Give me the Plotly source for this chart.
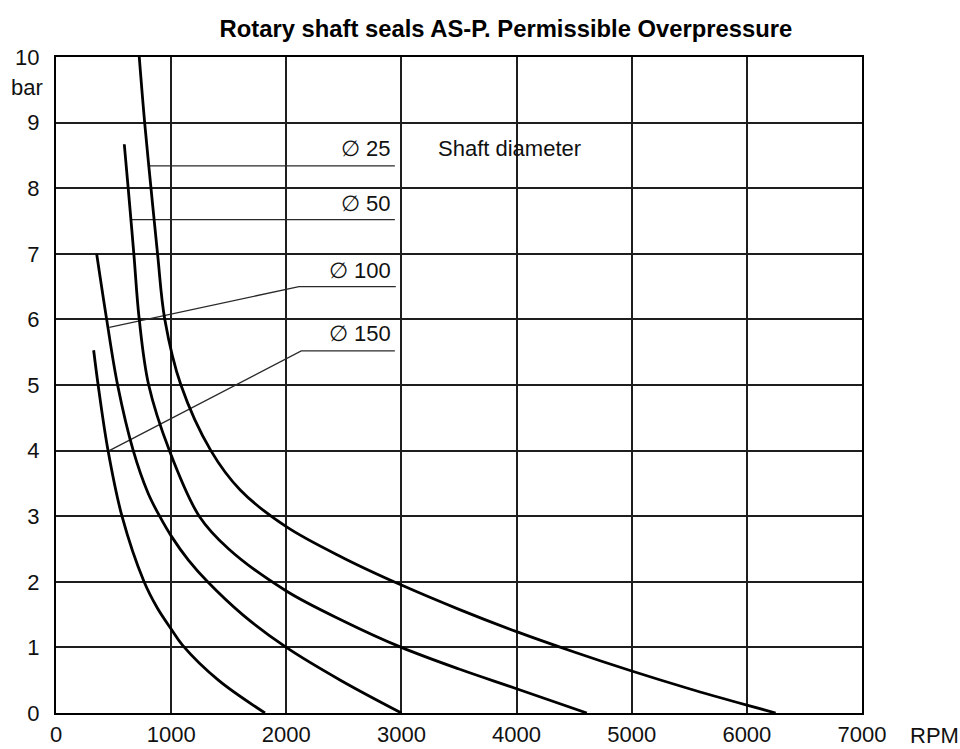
import plotly.graph_objects as go

# Permissible overpressure (bar) versus shaft speed (RPM) for four shaft diameters
rpm_d25 = [723, 770, 825, 882, 945, 1085, 1345, 1600, 2000, 2500, 3000, 3500, 4000, 4500, 5000, 5500, 6000, 6250]
bar_d25 = [10.0, 9.0, 8.0, 7.0, 6.0, 5.0, 4.0, 3.40, 2.84, 2.36, 1.95, 1.58, 1.24, 0.93, 0.64, 0.37, 0.12, 0.0]

rpm_d50 = [593, 627, 676, 723, 805, 985, 1244, 1500, 2000, 2500, 3000, 3500, 4000, 4610]
bar_d50 = [8.67, 8.0, 7.0, 6.0, 5.0, 4.0, 3.0, 2.5, 1.86, 1.40, 1.0, 0.67, 0.37, 0.0]

rpm_d100 = [353, 440, 535, 671, 800, 900, 1000, 1150, 1317, 1620, 2000, 2470, 3000]
bar_d100 = [7.0, 6.0, 5.0, 4.0, 3.35, 3.0, 2.70, 2.33, 2.0, 1.5, 1.0, 0.5, 0.0]

rpm_d150 = [327, 366, 452, 573, 765, 880, 1000, 1100, 1410, 1815]
bar_d150 = [5.53, 5.0, 4.0, 3.0, 2.0, 1.6, 1.28, 1.03, 0.5, 0.0]

curve_labels = ["\u2205 25", "\u2205 50", "\u2205 100", "\u2205 150"]

x_ticks = [0, 1000, 2000, 3000, 4000, 5000, 6000, 7000]
y_ticks = [0, 1, 2, 3, 4, 5, 6, 7, 8, 9, 10]

# Leader lines from each curve to its label (RPM, bar)
leader_x = [[801, 2943], [657, 2943], [463, 2110, 2951], [463, 2130, 2943]]
leader_y = [[8.34, 8.34], [7.52, 7.52], [5.88, 6.5, 6.5], [4.0, 5.52, 5.52]]
label_x = 2925
label_y = [8.6, 7.76, 6.74, 5.78]

FONT = "Liberation Sans, Arial, Helvetica, sans-serif"
INK = "#111111"
FS = 22

fig = go.Figure()

for lx, ly in zip(leader_x, leader_y):
    fig.add_trace(go.Scatter(
        x=lx, y=ly, mode="lines",
        line=dict(color="#2a2a2a", width=1.3),
        hoverinfo="skip", showlegend=False,
    ))

for xs, ys, name in [(rpm_d25, bar_d25, curve_labels[0]),
                     (rpm_d50, bar_d50, curve_labels[1]),
                     (rpm_d100, bar_d100, curve_labels[2]),
                     (rpm_d150, bar_d150, curve_labels[3])]:
    fig.add_trace(go.Scatter(
        x=xs, y=ys, mode="lines", name=name,
        line=dict(color="#000000", width=2.8, shape="spline", smoothing=1.0),
        showlegend=False,
    ))

annotations = []
for text, ly in zip(curve_labels, label_y):
    annotations.append(dict(
        x=label_x, y=ly, xref="x", yref="y", text=text, showarrow=False,
        xanchor="right", yanchor="middle",
        font=dict(family=FONT, size=FS, color=INK),
    ))
annotations.append(dict(
    x=3300, y=8.6, xref="x", yref="y", text="Shaft diameter", showarrow=False,
    xanchor="left", yanchor="middle",
    font=dict(family=FONT, size=FS, color=INK),
))
annotations.append(dict(
    x=0, y=9.53, xref="paper", yref="y", text="bar", showarrow=False,
    xanchor="right", yanchor="middle", xshift=-11,
    font=dict(family=FONT, size=FS, color=INK),
))
annotations.append(dict(
    x=1, y=0, xref="paper", yref="paper", text="RPM", showarrow=False,
    xanchor="center", yanchor="middle", xshift=72, yshift=-22,
    font=dict(family=FONT, size=FS, color=INK),
))

fig.update_layout(
    width=960, height=749,
    margin=dict(l=56, r=98, t=57, b=36),
    paper_bgcolor="white", plot_bgcolor="white",
    title=dict(
        text="Rotary shaft seals AS-P. Permissible Overpressure",
        x=0.527, xanchor="center", y=1 - 29 / 749, yanchor="middle",
        font=dict(family=FONT, size=23.8, color="#000000", weight="bold"),
    ),
    annotations=annotations,
    font=dict(family=FONT, size=FS, color=INK),
)

fig.update_xaxes(
    range=[0, 7000], tickvals=x_ticks, ticktext=[str(v) for v in x_ticks],
    showgrid=True, gridcolor="#1e1e1e", gridwidth=1.6,
    showline=True, mirror=True, linecolor="#000000", linewidth=2,
    zeroline=False, ticks="", ticklabelstandoff=1, automargin=False,
    tickfont=dict(family=FONT, size=FS, color=INK),
)
fig.update_yaxes(
    range=[0, 10], tickvals=y_ticks, ticktext=[str(v) for v in y_ticks],
    showgrid=True, gridcolor="#1e1e1e", gridwidth=1.6,
    showline=True, mirror=True, linecolor="#000000", linewidth=2,
    zeroline=False, ticks="", ticklabelstandoff=10, automargin=False,
    tickfont=dict(family=FONT, size=FS, color=INK),
)

fig.write_html("out.html")
